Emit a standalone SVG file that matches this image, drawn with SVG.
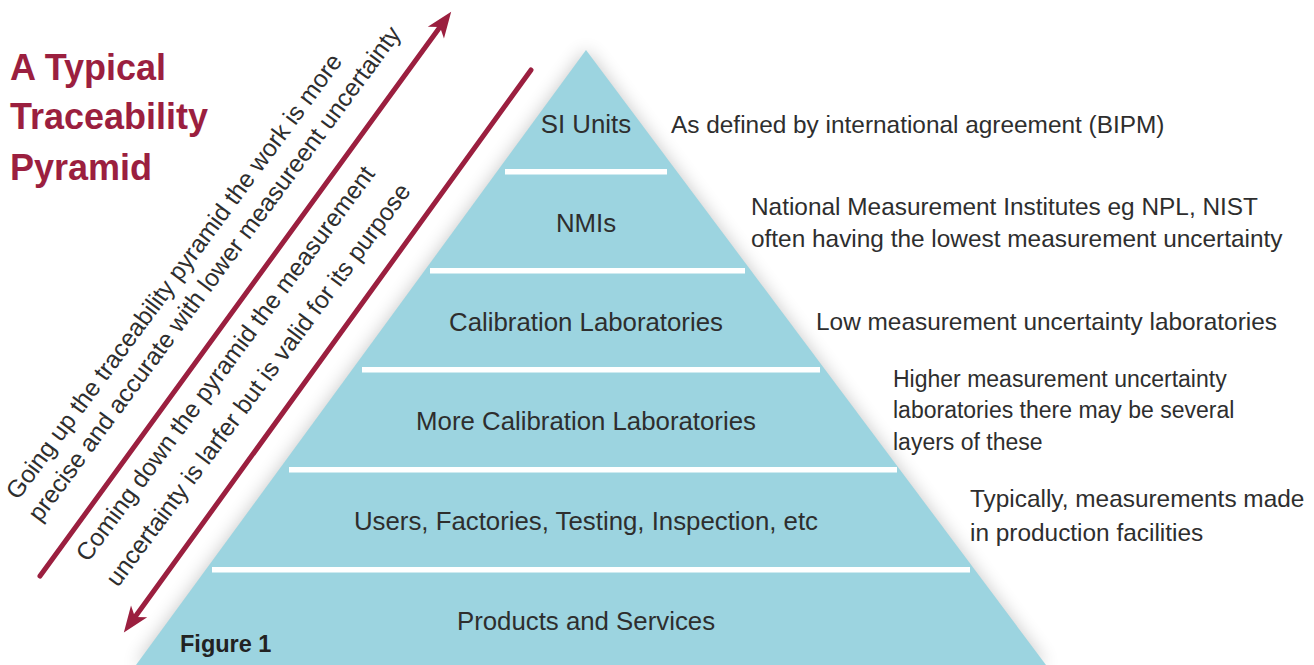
<svg xmlns="http://www.w3.org/2000/svg" width="1314" height="665" viewBox="0 0 1314 665">
  <defs>
    <filter id="glow" x="-20%" y="-20%" width="140%" height="140%">
      <feGaussianBlur stdDeviation="9"/>
    </filter>
    <marker id="ah" viewBox="-8 -11 28 22" refX="0" refY="0" markerWidth="28" markerHeight="22" markerUnits="userSpaceOnUse" orient="auto">
      <path d="M19,0 L-7,-10 L0,0 L-7,10 Z" fill="#9b1f3f"/>
    </marker>
  </defs>
  <style>
    .title { font-family: "Liberation Sans", Arial, sans-serif; font-weight: bold; font-size: 36px; fill: #9b1f3f; }
    .layer { font-family: "Liberation Sans", Arial, sans-serif; font-size: 25.8px; fill: #2e2e2e; text-anchor: middle; }
    .note { font-family: "Liberation Sans", Arial, sans-serif; font-size: 24.4px; fill: #2e2e2e; }
    .note2 { font-family: "Liberation Sans", Arial, sans-serif; font-size: 23px; fill: #2e2e2e; }
    .diag { font-family: "Liberation Sans", Arial, sans-serif; font-size: 24.6px; fill: #2e2e2e; }
    .fig { font-family: "Liberation Sans", Arial, sans-serif; font-weight: bold; font-size: 23.5px; fill: #222; }
    .sep { fill: #ffffff; }
    .arrow { stroke: #9b1f3f; stroke-width: 5; fill: none; stroke-linecap: round; marker-end: url(#ah); }
  </style>
  <rect width="1314" height="665" fill="#ffffff"/>

  <g id="title">
    <text class="title" x="10" y="80">A Typical</text>
    <text class="title" x="10" y="129">Traceability</text>
    <text class="title" x="10" y="180">Pyramid</text>
  </g>

  <g id="pyramid">
    <polygon points="586,50 136,665 1046,665" fill="#000" opacity="0.22" filter="url(#glow)"/>
    <polygon points="586,50 136,665 1046,665" fill="#9cd4e0"/>
    <rect class="sep" x="505" y="169" width="162" height="5.5"/>
    <rect class="sep" x="430" y="268" width="315" height="5.5"/>
    <rect class="sep" x="362" y="367" width="458" height="5.5"/>
    <rect class="sep" x="289" y="467" width="608" height="5.5"/>
    <rect class="sep" x="212" y="567" width="758" height="5.5"/>
  </g>

  <g id="layer-si-units">
    <text class="layer" x="586" y="133">SI Units</text>
    <text class="note" x="671" y="133">As defined by international agreement (BIPM)</text>
  </g>
  <g id="layer-nmis">
    <text class="layer" x="586" y="232">NMIs</text>
    <text class="note" x="751" y="215">National Measurement Institutes eg NPL, NIST</text>
    <text class="note" x="751" y="247">often having the lowest measurement uncertainty</text>
  </g>
  <g id="layer-calibration">
    <text class="layer" x="586" y="331">Calibration Laboratories</text>
    <text class="note" x="816" y="330">Low measurement uncertainty laboratories</text>
  </g>
  <g id="layer-more-calibration">
    <text class="layer" x="586" y="430">More Calibration Laboratories</text>
    <text class="note2" x="893" y="387">Higher measurement uncertainty</text>
    <text class="note2" x="893" y="418">laboratories there may be several</text>
    <text class="note2" x="893" y="450">layers of these</text>
  </g>
  <g id="layer-users">
    <text class="layer" x="586" y="530">Users, Factories, Testing, Inspection, etc</text>
    <text class="note" x="970" y="507">Typically, measurements made</text>
    <text class="note" x="970" y="541">in production facilities</text>
  </g>
  <g id="layer-products">
    <text class="layer" x="586" y="630">Products and Services</text>
  </g>

  <g id="figure-label">
    <text class="fig" x="180" y="652">Figure 1</text>
  </g>

  <g id="connectors">
    <path class="arrow" d="M40,576 L440,27"/>
    <path class="arrow" d="M531,70 L135,617"/>
  </g>

  <g id="diagonal-notes">
    <text class="diag" transform="translate(18,501) rotate(-53.5)">Going up the traceability pyramid the work is more</text>
    <text class="diag" transform="translate(40,523) rotate(-53.5)">precise and accurate with lower measureent uncertainty</text>
    <text class="diag" transform="translate(88,563) rotate(-53.5)">Coming down the pyramid the measurement</text>
    <text class="diag" transform="translate(118,588) rotate(-53.5)">uncertainty is larfer but is valid for its purpose</text>
  </g>
</svg>
